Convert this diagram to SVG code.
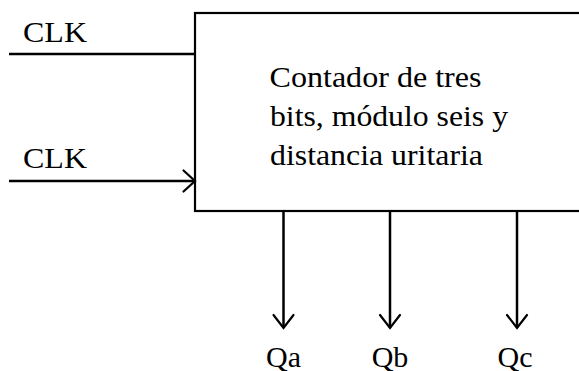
<svg xmlns="http://www.w3.org/2000/svg" width="579" height="371" viewBox="0 0 579 371">
<style>
  text { font-family: "Liberation Serif", "Times New Roman", serif; font-size: 30px; fill: #000; }
  .ln { stroke: #000; stroke-width: 2.5; fill: none; }
  .ah { stroke: #000; stroke-width: 2.2; fill: none; stroke-linecap: round; stroke-linejoin: miter; }
</style>
<rect width="579" height="371" fill="#fff"/>
<g id="counter">
  <rect x="195" y="13" width="400" height="198" fill="#fff" stroke="#000" stroke-width="2.2"/>
  <text x="269.5" y="87" textLength="212" lengthAdjust="spacingAndGlyphs">Contador de tres</text>
  <text x="270" y="126" textLength="238" lengthAdjust="spacingAndGlyphs">bits, módulo seis y</text>
  <text x="270" y="165" textLength="213" lengthAdjust="spacingAndGlyphs">distancia uritaria</text>
</g>
<g id="labels">
  <text x="23" y="42" textLength="64" lengthAdjust="spacingAndGlyphs">CLK</text>
  <text x="23" y="168" textLength="64" lengthAdjust="spacingAndGlyphs">CLK</text>
  <text x="283.5" y="367" text-anchor="middle">Qa</text>
  <text x="390" y="367" text-anchor="middle">Qb</text>
  <text x="515" y="367" text-anchor="middle">Qc</text>
</g>
<g id="connectors">
  <line class="ln" x1="9" y1="54" x2="195" y2="54"/>
  <line class="ln" x1="9" y1="181" x2="195" y2="181"/>
  <polyline class="ah" points="183.5,170.5 195,181 183.5,191.5"/>
  <line class="ln" x1="283.5" y1="211" x2="283.5" y2="328"/>
  <polyline class="ah" points="273.5,315 283.5,328 293.5,315"/>
  <line class="ln" x1="390" y1="211" x2="390" y2="328"/>
  <polyline class="ah" points="380,315 390,328 400,315"/>
  <line class="ln" x1="517" y1="211" x2="517" y2="328"/>
  <polyline class="ah" points="507,315 517,328 527,315"/>
</g>
</svg>
